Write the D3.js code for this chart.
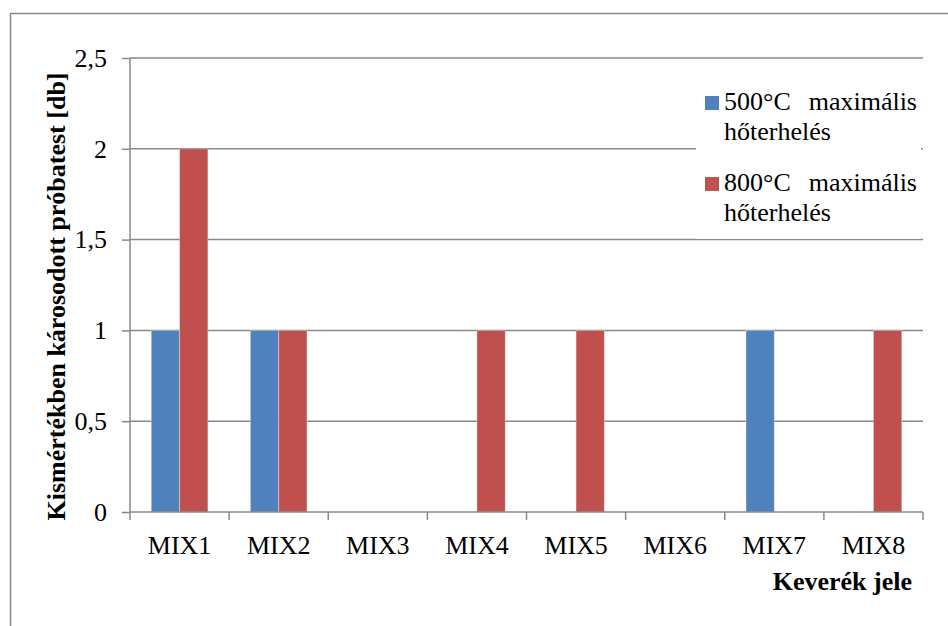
<!DOCTYPE html>
<html><head><meta charset="utf-8">
<script src="https://cdn.jsdelivr.net/npm/d3@7/dist/d3.min.js"></script>
<style>html,body{margin:0;padding:0;background:#fff;overflow:hidden;}svg{display:block;}</style>
</head><body>
<script>
const categories = ["MIX1","MIX2","MIX3","MIX4","MIX5","MIX6","MIX7","MIX8"];
const seriesNames = ["500°C  maximális hőterhelés","800°C  maximális hőterhelés"];
const values500 = [1,1,0,0,0,0,1,0];
const values800 = [2,1,0,1,1,0,0,1];
const yTicks = [0,0.5,1,1.5,2,2.5];
const yTickLabels = ["0","0,5","1","1,5","2","2,5"];
const colors = ["#4F81BD","#C0504D"];
const yTitle = "Kismértékben károsodott próbatest [db]";
const xTitle = "Keverék jele";

(function(){
const W = 948, H = 626;
const FF = '"Liberation Serif"';
const svg = d3.select("body").append("svg").attr("width",W).attr("height",H);

// outer border
svg.append("rect").attr("x",10.5).attr("y",13.5).attr("width",W).attr("height",H)
  .attr("fill","none").attr("stroke","#888").attr("stroke-width",1.5);

const pL = 130, pR = 923, pT = 58, pB = 512;
const x = d3.scaleBand().domain(categories).range([pL,pR]);
const y = d3.scaleLinear().domain([0,2.5]).range([pB,pT]);
const barW = x.bandwidth()/3.5;
const gridColor = "#888";

// gridlines
svg.append("g").selectAll("line").data(yTicks.filter(d=>d>0)).join("line")
  .attr("x1",pL).attr("x2",pR).attr("y1",d=>y(d)).attr("y2",d=>y(d))
  .attr("stroke",gridColor).attr("stroke-width",1.5);

// bars
const series = [values500, values800];
series.forEach((vals,si)=>{
  svg.append("g").selectAll("rect").data(categories.map((c,i)=>({c,v:vals[i]})).filter(d=>d.v>0)).join("rect")
    .attr("x",d=>x(d.c)+x.bandwidth()/2 - barW + si*barW)
    .attr("y",d=>y(d.v)).attr("width",barW).attr("height",d=>y(0)-y(d.v))
    .attr("fill",colors[si]).attr("stroke","#ffffff").attr("stroke-opacity",0.35).attr("stroke-width",1);
});

// y axis
const yAxis = svg.append("g").attr("transform",`translate(${pL},0)`)
  .call(d3.axisLeft(y).tickValues(yTicks).tickFormat((d,i)=>yTickLabels[i]).tickSize(8).tickPadding(15));
yAxis.attr("font-family",null);
yAxis.select(".domain").attr("stroke",gridColor).attr("stroke-width",1.5).attr("d",`M0,${pT}V${pB}`);
yAxis.selectAll(".tick line").attr("stroke",gridColor).attr("stroke-width",1.5);
yAxis.selectAll(".tick text").style("font-family",FF).style("font-size","26px").attr("fill","#000");

// x axis
const xAxis = svg.append("g").attr("transform",`translate(0,${pB})`)
  .call(d3.axisBottom(x).tickSize(0).tickPadding(24));
xAxis.attr("font-family",null);
xAxis.select(".domain").attr("stroke",gridColor).attr("stroke-width",1.5).attr("d",`M${pL},0H${pR}`);
xAxis.selectAll(".tick text").style("font-family",FF).style("font-size","26px").attr("fill","#000");
// category boundary ticks
const bounds = categories.map(c=>x(c)).concat([pR]);
svg.append("g").selectAll("line").data(bounds).join("line")
  .attr("x1",d=>d).attr("x2",d=>d).attr("y1",pB).attr("y2",pB+8)
  .attr("stroke",gridColor).attr("stroke-width",1.5);

// titles
svg.append("text").attr("transform",`translate(65,${(68+525)/2}) rotate(-90)`)
  .attr("text-anchor","middle").style("font-family",FF).style("font-weight","bold")
  .style("font-size","26px").text(yTitle);
svg.append("text").attr("x",912).attr("y",590).attr("text-anchor","end")
  .style("font-family",FF).style("font-weight","bold").style("font-size","26px").text(xTitle);

// legend
const lg = svg.append("g");
lg.append("rect").attr("x",696).attr("y",72).attr("width",225).attr("height",167).attr("fill","#fff");
seriesNames.forEach((name,i)=>{
  const y0 = 110 + i*81;
  lg.append("rect").attr("x",705).attr("y",y0-14).attr("width",14).attr("height",14).attr("fill",colors[i]);
  const parts = name.split("  ");
  const rest = parts[1].split(" ");
  lg.append("text").attr("x",724).attr("y",y0).style("font-family",FF).style("font-size","26px").text(parts[0]);
  lg.append("text").attr("x",917).attr("y",y0).attr("text-anchor","end").style("font-family",FF).style("font-size","26px").text(rest[0]);
  lg.append("text").attr("x",724).attr("y",y0+30).style("font-family",FF).style("font-size","26px").text(rest[1]);
});
})();
</script>
</body></html>
